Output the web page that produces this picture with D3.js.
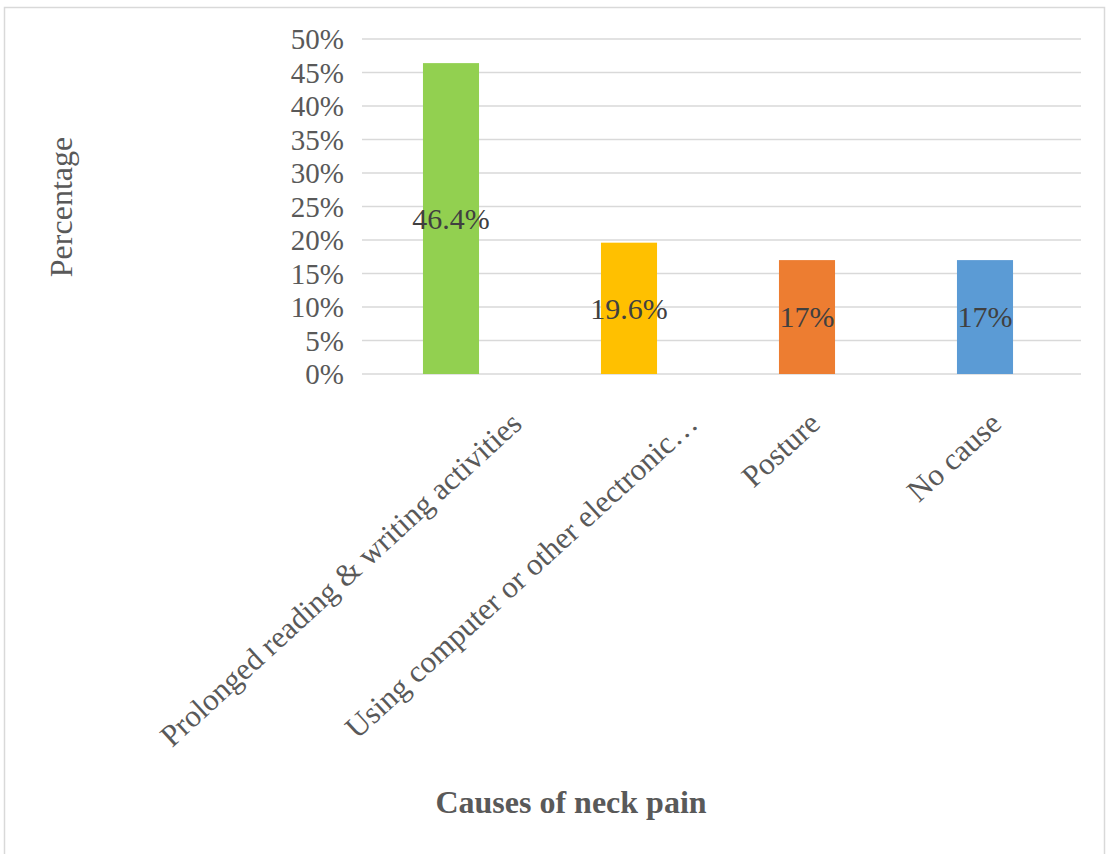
<!DOCTYPE html>
<html>
<head>
<meta charset="utf-8">
<script src="https://cdn.jsdelivr.net/npm/d3@7"></script>
<style>
  html, body { margin: 0; padding: 0; background: #ffffff; }
  svg { display: block; }
</style>
</head>
<body>
<svg id="chart" width="1106" height="854"></svg>
<script>
// Causes of neck pain — share of respondents
const categories = [
  "Prolonged reading & writing activities",
  "Using computer or other electronic…",
  "Posture",
  "No cause"
];
const values = [46.4, 19.6, 17, 17];
const valueLabels = ["46.4%", "19.6%", "17%", "17%"];
const barColors = ["#92d050", "#ffc000", "#ed7d31", "#5b9bd5"];
const yTicks = [0, 5, 10, 15, 20, 25, 30, 35, 40, 45, 50];

const svg = d3.select("#chart");
const serif = "'Liberation Serif', 'Times New Roman', serif";

// outer frame
svg.append("rect")
  .attr("x", 4.5).attr("y", 7.5)
  .attr("width", 1100).attr("height", 870)
  .attr("fill", "none")
  .attr("stroke", "#d9d9d9")
  .attr("stroke-width", 1.5);

const plotLeft = 362, plotRight = 1081, plotTop = 39, plotBottom = 374;

const x = d3.scaleBand()
  .domain(categories)
  .range([plotLeft, 1074])
  .paddingInner(0.685)
  .paddingOuter(0.3425);

const y = d3.scaleLinear()
  .domain([0, 50])
  .range([plotBottom, plotTop]);

// horizontal gridlines
svg.append("g")
  .selectAll("line")
  .data(yTicks)
  .join("line")
  .attr("x1", plotLeft).attr("x2", plotRight)
  .attr("y1", d => y(d)).attr("y2", d => y(d))
  .attr("stroke", "#d9d9d9")
  .attr("stroke-width", 1.5);

// y axis labels
const yAxis = d3.axisLeft(y)
  .tickValues(yTicks)
  .tickSize(0)
  .tickPadding(0)
  .tickFormat(d => d + "%");
const yg = svg.append("g")
  .attr("transform", `translate(344,0)`)
  .call(yAxis);
yg.select(".domain").remove();
yg.selectAll("text")
  .attr("font-family", serif)
  .attr("font-size", 29)
  .attr("fill", "#595959")
  .attr("dy", "0.34em");

// bars
svg.append("g")
  .selectAll("rect")
  .data(values)
  .join("rect")
  .attr("x", (d, i) => x(categories[i]))
  .attr("width", x.bandwidth())
  .attr("y", d => y(d))
  .attr("height", d => y(0) - y(d))
  .attr("fill", (d, i) => barColors[i]);

// value labels, centred inside each bar
svg.append("g")
  .selectAll("text")
  .data(values)
  .join("text")
  .attr("x", (d, i) => x(categories[i]) + x.bandwidth() / 2)
  .attr("y", d => (y(0) + y(d)) / 2)
  .attr("dy", "0.34em")
  .attr("text-anchor", "middle")
  .attr("font-family", serif)
  .attr("font-size", 30)
  .attr("fill", "#404040")
  .text((d, i) => valueLabels[i]);

// rotated category labels
const xAxis = d3.axisBottom(x).tickSize(0).tickPadding(0);
const xg = svg.append("g")
  .attr("transform", `translate(0,${plotBottom})`)
  .call(xAxis);
xg.select(".domain").remove();
xg.selectAll("text")
  .attr("font-family", serif)
  .attr("font-size", 31)
  .attr("fill", "#595959")
  .attr("text-anchor", "end")
  .attr("dy", 0)
  .attr("y", 0)
  .each(function () {
    const len = this.getComputedTextLength();
    const shift = 0.15 * len + 1;
    d3.select(this).attr("transform", `translate(${shift},52) rotate(-42.5)`);
  });

// axis titles
svg.append("text")
  .attr("transform", "translate(72,207) rotate(-90)")
  .attr("text-anchor", "middle")
  .attr("font-family", serif)
  .attr("font-size", 32)
  .attr("fill", "#595959")
  .text("Percentage");

svg.append("text")
  .attr("x", 571)
  .attr("y", 813)
  .attr("text-anchor", "middle")
  .attr("font-family", serif)
  .attr("font-size", 32)
  .attr("font-weight", "bold")
  .attr("fill", "#595959")
  .text("Causes of neck pain");
</script>
</body>
</html>
